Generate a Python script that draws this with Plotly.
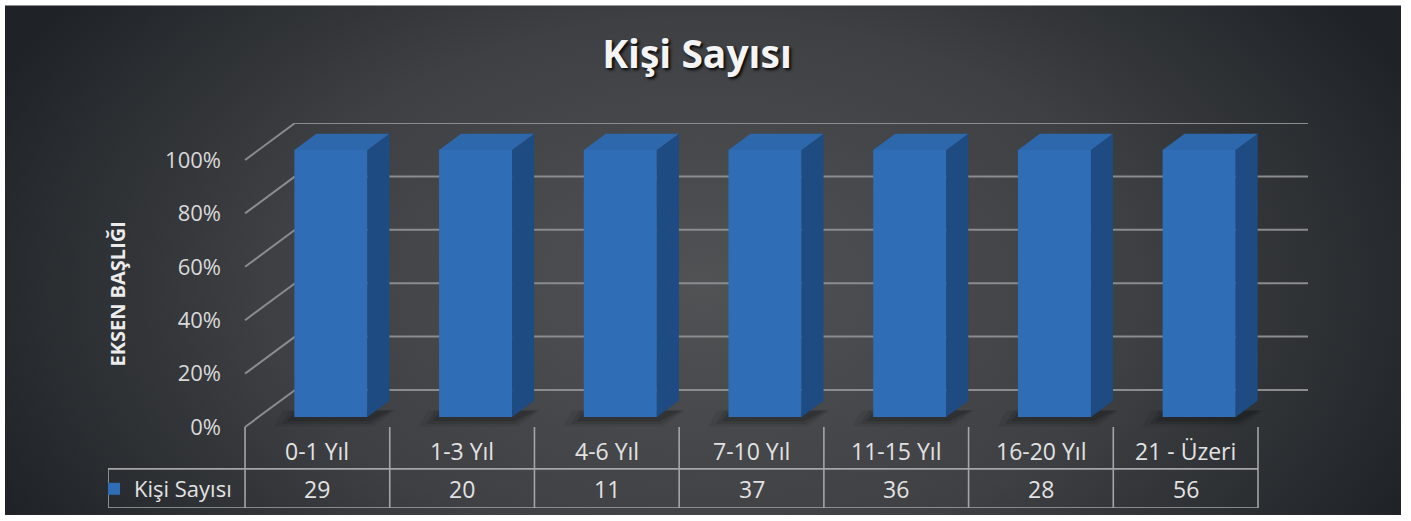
import base64
import plotly.graph_objects as go

# ---------------- data ----------------
categories = ["0-1 Yıl", "1-3 Yıl", "4-6 Yıl", "7-10 Yıl", "11-15 Yıl", "16-20 Yıl", "21 - Üzeri"]
series_name = "Kişi Sayısı"
values = [29, 20, 11, 37, 36, 28, 56]
y_ticks = [0, 20, 40, 60, 80, 100]
y_tick_labels = ["0%", "20%", "40%", "60%", "80%", "100%"]
chart_title = "Kişi Sayısı"
axis_title = "EKSEN BAŞLIĞI"

# 100% stacked column: share of each category total (single series)
totals = [v for v in values]
shares = [v / t * 100 for v, t in zip(values, totals)]

# ---------------- geometry / style ----------------
W, H = 1411, 521
PL, PR, PT, PB = 108, 1308, 123, 509          # plot area in pixels
n = len(categories)
DX = 0.3455          # wall depth, category units
DY = 13.86           # wall depth, percent units
LEG_W = 0.947        # legend column width, category units
Y_LO = -30.34
X_RANGE = [-0.5 - LEG_W, n - 0.5 + DX]
Y_RANGE = [Y_LO, 100 + DY]
D0, D1 = 0.27, 0.44  # bar depth start / depth length (fractions of floor)
BAR_W = 0.505
ROW1_Y = -15.7       # line between category row and value row
LABEL_Y = -9.0
VALUE_Y = -23.2

GRID_C = "#8a8c8e"
TABLE_C = "#a3a5a7"
FRONT_C = "#2f6eb6"
SIDE_C = "#1d4b82"
TOP_C = "#2d68ad"
TXT_C = "#e2e2e2"
FONT = "Open Sans"


def paper_x(px):
    return (px - PL) / (PR - PL)


def paper_y(py):
    return (PB - py) / (PB - PT)


# background radial gradient (svg image)
bw, bh = 1396, 511
svg = f'''<svg xmlns="http://www.w3.org/2000/svg" width="{bw}" height="{bh}" viewBox="0 0 {bw} {bh}" preserveAspectRatio="none">
<defs><radialGradient id="g" cx="0.5" cy="0.55" r="0.56" gradientTransform="translate(0.5,0.55) scale(1,1.7) translate(-0.5,-0.55)">
<stop offset="0" stop-color="#505254"/><stop offset="0.55" stop-color="#3e4043"/><stop offset="1" stop-color="#1f2327"/>
</radialGradient></defs><rect width="{bw}" height="{bh}" fill="url(#g)"/></svg>'''
svg_uri = "data:image/svg+xml;base64," + base64.b64encode(svg.encode()).decode()

fig = go.Figure()

shapes = []
# wall gridlines (side wall diagonal + back wall)
for t in y_ticks:
    shapes.append(dict(type="line", xref="x", yref="y", layer="below",
                       x0=-0.5, y0=t, x1=-0.5 + DX, y1=t + DY,
                       line=dict(color=GRID_C, width=2)))
    shapes.append(dict(type="line", xref="x", yref="y", layer="below",
                       x0=-0.5 + DX, y0=t + DY, x1=n - 0.5 + DX, y1=t + DY,
                       line=dict(color=GRID_C, width=2)))

# bar geometry
x_front = [i + D0 * DX for i in range(n)]
base = D0 * DY
sdx, sdy = D1 * DX, D1 * DY

# soft shadows under bars
for i, s in enumerate(shares):
    xl = x_front[i] - BAR_W / 2
    xr = x_front[i] + BAR_W / 2
    for gx, gy, op in [(0.14, 3.6, 0.07), (0.09, 2.6, 0.10), (0.05, 1.6, 0.14)]:
        pts = [(xl - gx, base - gy),
               (xr + gx * 0.3, base - gy),
               (xr + sdx + gx * 0.3, base + sdy * 0.4),
               (xl - gx + sdx * 0.4, base + sdy * 0.4)]
        path = "M " + " L ".join(f"{px},{py}" for px, py in pts) + " Z"
        shapes.append(dict(type="path", xref="x", yref="y", layer="below", path=path,
                           fillcolor=f"rgba(0,0,0,{op})", line=dict(width=0)))

# front faces
fig.add_trace(go.Bar(
    x=x_front, y=shares, base=[base] * n, width=BAR_W,
    marker=dict(color=FRONT_C, line=dict(width=0)),
    name=series_name, showlegend=True, hoverinfo="skip",
))

# side faces
sx, sy = [], []
for i, s in enumerate(shares):
    xr = x_front[i] + BAR_W / 2
    sx += [xr, xr + sdx, xr + sdx, xr, xr, None]
    sy += [base, base + sdy, base + s + sdy, base + s, base, None]
fig.add_trace(go.Scatter(x=sx, y=sy, mode="lines", fill="toself", fillcolor=SIDE_C,
                         line=dict(width=0), showlegend=False, hoverinfo="skip"))

# top faces
tx, ty = [], []
for i, s in enumerate(shares):
    xl = x_front[i] - BAR_W / 2
    xr = x_front[i] + BAR_W / 2
    top = base + s
    tx += [xl, xr, xr + sdx, xl + sdx, xl, None]
    ty += [top, top, top + sdy, top + sdy, top, None]
fig.add_trace(go.Scatter(x=tx, y=ty, mode="lines", fill="toself", fillcolor=TOP_C,
                         line=dict(width=0), showlegend=False, hoverinfo="skip"))

# data table lines
tl = dict(color=TABLE_C, width=1.6)
for k in range(n + 1):
    shapes.append(dict(type="line", xref="x", yref="y", x0=k - 0.5, x1=k - 0.5,
                       y0=0, y1=Y_LO, line=tl))
shapes.append(dict(type="line", xref="x", yref="y", x0=-0.5 - LEG_W, x1=-0.5 - LEG_W,
                   y0=ROW1_Y, y1=Y_LO, line=tl))
for yy in (ROW1_Y, Y_LO):
    shapes.append(dict(type="line", xref="x", yref="y", x0=-0.5 - LEG_W, x1=n - 0.5,
                       y0=yy, y1=yy, line=tl))

annotations = []
for i, (c, v) in enumerate(zip(categories, values)):
    annotations.append(dict(x=i, y=LABEL_Y, xref="x", yref="y", text=c, showarrow=False,
                            font=dict(family=FONT, size=23, color=TXT_C)))
    annotations.append(dict(x=i, y=VALUE_Y, xref="x", yref="y", text=str(v), showarrow=False,
                            font=dict(family=FONT, size=23, color=TXT_C)))

annotations.append(dict(x=paper_x(118), y=paper_y(295), xref="paper", yref="paper",
                        xanchor="center", yanchor="middle",
                        text=f"<b>{axis_title}</b>", textangle=-90, showarrow=False,
                        font=dict(family=FONT, size=20, color="#ececec")))

fig.update_layout(
    width=W, height=H, autosize=False,
    margin=dict(l=PL, r=W - PR, t=PT, b=H - PB, pad=0),
    paper_bgcolor="white", plot_bgcolor="rgba(0,0,0,0)",
    title=dict(text=f"<b>{chart_title}</b>", x=697 / W, xanchor="center",
               y=1 - 54 / H, yanchor="middle", yref="container",
               font=dict(family=FONT, size=39, color="#f4f4f4",
                         shadow="2px 2px 3px rgba(0,0,0,0.9)")),
    xaxis=dict(range=X_RANGE, visible=False, fixedrange=True),
    yaxis=dict(range=Y_RANGE, anchor="free", position=paper_x(245),
               tickvals=y_ticks, ticktext=y_tick_labels, ticks="",
               ticklabelstandoff=24, showgrid=False, zeroline=False, showline=False,
               tickfont=dict(family=FONT, size=22, color="#d9d9d9"), fixedrange=True),
    showlegend=True,
    legend=dict(x=paper_x(94), y=paper_y(489), xanchor="left", yanchor="middle",
                bgcolor="rgba(0,0,0,0)", borderwidth=0,
                font=dict(family=FONT, size=22, color=TXT_C)),
    shapes=shapes,
    annotations=annotations,
    images=[dict(source=svg_uri, xref="paper", yref="paper",
                 x=paper_x(5), y=paper_y(5), sizex=(1401 - 5) / (PR - PL),
                 sizey=(516 - 5) / (PB - PT), xanchor="left", yanchor="top",
                 sizing="stretch", layer="below")],
)

fig.write_html("out.html", config={"displayModeBar": False},
               post_script="document.body.style.margin='0px';document.body.style.padding='0px';")
